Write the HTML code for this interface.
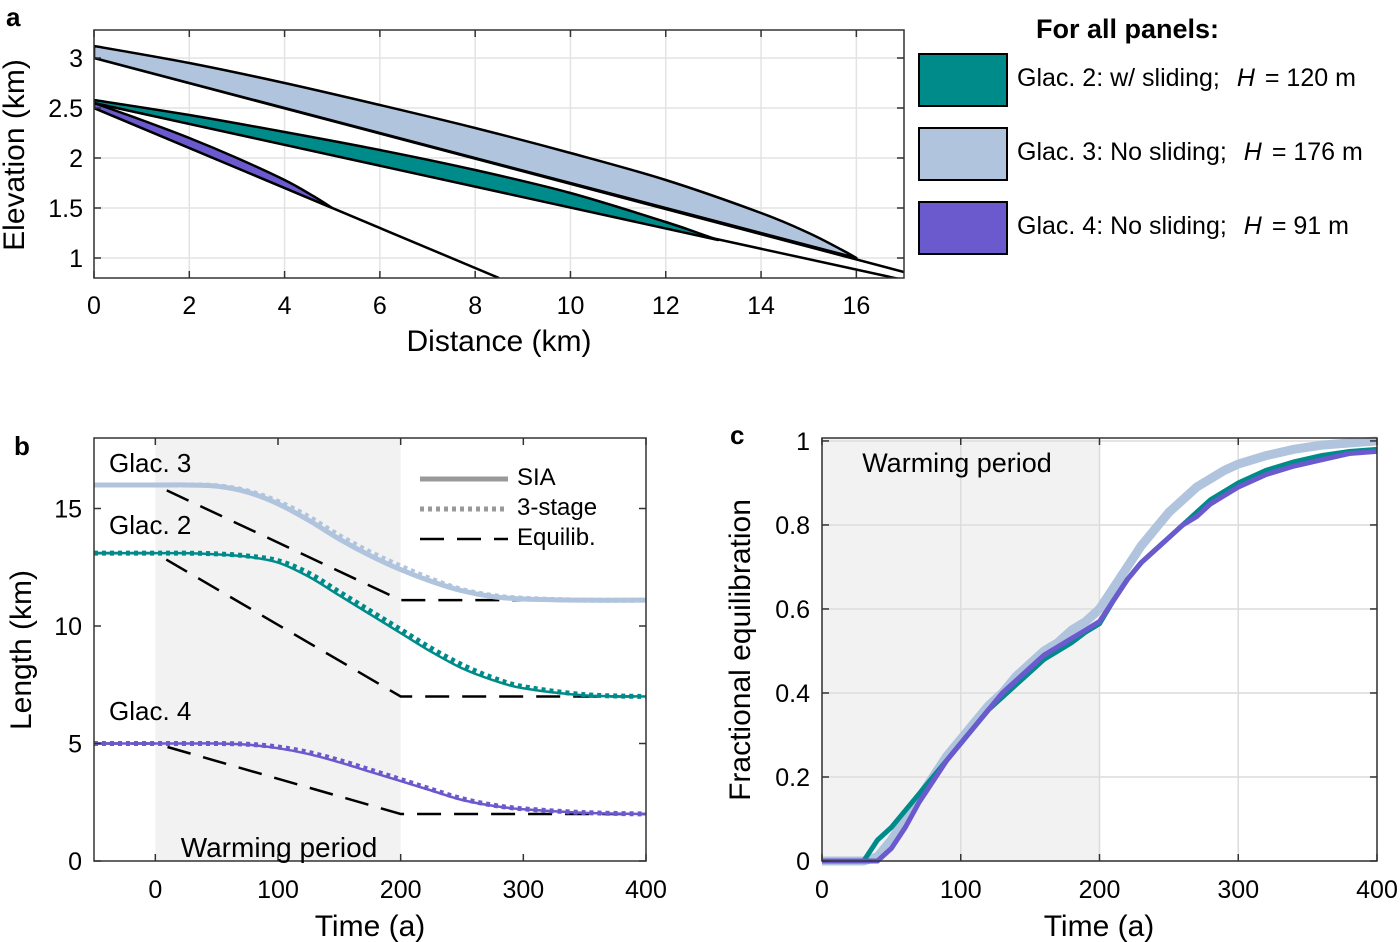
<!DOCTYPE html>
<html><head><meta charset="utf-8"><style>
html,body{margin:0;padding:0;background:#fff;}
svg{display:block;font-family:"Liberation Sans",sans-serif;}
</style></head><body>
<svg id="fig" width="1400" height="942" viewBox="0 0 1400 942" xmlns="http://www.w3.org/2000/svg"></svg>
<script>
// ---- Panel a data ----
const g3X = [0,2,4,6,8,10,12,14,15,15.7,16];
const g3Surf = [3.12,2.95,2.75,2.53,2.3,2.05,1.78,1.45,1.25,1.08,1.0];
const g3Bed = [[0,3.0],[17,0.86]];
const g2X = [0,2,4,6,8,10,12,12.8,13.1];
const g2Surf = [2.58,2.43,2.26,2.08,1.88,1.65,1.36,1.23,1.18];
const g2Bed = [[0,2.55],[17,0.78]];
const g4X = [0,1,2,3,4,4.6,5];
const g4Surf = [2.55,2.38,2.2,2.0,1.78,1.62,1.5];
const g4Bed = [[0,2.5],[8.5,0.8]];
const aXTicks = [0,2,4,6,8,10,12,14,16];
const aYTicks = [1,1.5,2,2.5,3];
const aYLabels = ['1','1.5','2','2.5','3'];
// ---- Panel b data ----
const bT = [-50,0,25,50,75,100,125,150,175,200,225,250,275,300,350,400];
const b3SIA = [16,16,16,15.95,15.7,15.2,14.5,13.7,13.0,12.4,11.9,11.5,11.25,11.15,11.1,11.1];
const b3Stage = [16,16,16,15.97,15.75,15.3,14.65,13.85,13.15,12.55,12.0,11.55,11.3,11.18,11.1,11.1];
const b2SIA = [13.1,13.1,13.1,13.05,12.95,12.7,12.1,11.3,10.5,9.7,8.9,8.2,7.7,7.35,7.05,7.0];
const b2Stage = [13.1,13.1,13.1,13.07,12.98,12.78,12.25,11.45,10.65,9.85,9.05,8.35,7.8,7.42,7.08,7.0];
const b4SIA = [5,5,5,5,4.95,4.8,4.55,4.2,3.8,3.4,3.0,2.6,2.35,2.2,2.05,2.0];
const b4Stage = [5,5,5,5,4.97,4.85,4.62,4.28,3.88,3.47,3.05,2.65,2.38,2.22,2.06,2.0];
const bEqT = [-50,0,200,400];
const b3Eq = [16,16,11.1,11.1];
const b2Eq = [13.1,13.1,7.0,7.0];
const b4Eq = [5,5,2.0,2.0];
const bXTicks = [0,100,200,300,400];
const bYTicks = [0,5,10,15];
// ---- Panel c data ----
const cT = [0,30,40,50,60,70,80,90,100,110,120,130,140,150,160,170,180,190,200,210,220,230,240,250,260,270,280,290,300,320,340,360,380,400];
const c2 = [0,0,0.05,0.08,0.12,0.16,0.2,0.24,0.28,0.32,0.36,0.39,0.42,0.45,0.48,0.5,0.52,0.545,0.565,0.62,0.67,0.71,0.74,0.77,0.8,0.83,0.86,0.88,0.9,0.93,0.95,0.965,0.975,0.98];
const c3 = [0,0,0.01,0.05,0.1,0.15,0.2,0.25,0.29,0.33,0.37,0.4,0.44,0.47,0.5,0.52,0.55,0.57,0.6,0.65,0.7,0.75,0.79,0.83,0.86,0.89,0.91,0.93,0.945,0.965,0.98,0.99,0.995,1.0];
const c4 = [0,0,0,0.03,0.08,0.14,0.19,0.24,0.28,0.32,0.36,0.4,0.43,0.46,0.49,0.51,0.53,0.55,0.57,0.62,0.67,0.71,0.74,0.77,0.8,0.82,0.85,0.87,0.89,0.92,0.94,0.955,0.97,0.975];
const cXTicks = [0,100,200,300,400];
const cYTicks = [0,0.2,0.4,0.6,0.8,1];
const cYLabels = ['0','0.2','0.4','0.6','0.8','1'];

const NS='http://www.w3.org/2000/svg';
const svg=document.getElementById('fig');
function mk(tag,attrs,parent,text){const e=document.createElementNS(NS,tag);for(const k in attrs)e.setAttribute(k,attrs[k]);if(text!==undefined)e.textContent=text;(parent||svg).appendChild(e);return e;}
function scale(d0,d1,r0,r1){return v=>r0+(v-d0)/(d1-d0)*(r1-r0);}
function smooth(pts){ // Catmull-Rom -> cubic bezier
  let d='M'+pts[0][0]+','+pts[0][1];
  for(let i=0;i<pts.length-1;i++){
    const p0=pts[i-1]||pts[i],p1=pts[i],p2=pts[i+1],p3=pts[i+2]||p2;
    const c1=[p1[0]+(p2[0]-p0[0])/6,p1[1]+(p2[1]-p0[1])/6];
    const c2=[p2[0]-(p3[0]-p1[0])/6,p2[1]-(p3[1]-p1[1])/6];
    d+=' C'+c1[0]+','+c1[1]+' '+c2[0]+','+c2[1]+' '+p2[0]+','+p2[1];
  }
  return d;
}
const TEAL='#008b8b', LB='#b0c4de', PUR='#6a5acd';
const TF=25, AF=30;

// ---------- Panel a ----------
const ax=scale(0,17,94,904), ay=scale(0.8,3.28,278,30);
const ga=mk('g',{});
aXTicks.forEach(t=>{const l=mk('line',{x1:ax(t),x2:ax(t),y1:30,y2:278,stroke:'#e3e3e3','stroke-width':1.5},ga);});
aYTicks.forEach(t=>{const l=mk('line',{x1:94,x2:904,y1:ay(t),y2:ay(t),stroke:'#e3e3e3','stroke-width':1.5},ga);});
const clipA=mk('clipPath',{id:'clipA'});mk('rect',{x:94,y:30,width:810,height:248},clipA);
const gaClip=mk('g',{'clip-path':'url(#clipA)'},ga);
function glacierC(xs,surf,bed,fill,name){
  const bedAt=x=>bed[0][1]+(x-bed[0][0])*(bed[1][1]-bed[0][1])/(bed[1][0]-bed[0][0]);
  const b=mk('line',{x1:ax(bed[0][0]),y1:ay(bed[0][1]),x2:ax(bed[1][0]),y2:ay(bed[1][1]),stroke:'#000','stroke-width':2.5},gaClip);
  
  let d=smooth(xs.map((x,i)=>[ax(x),ay(surf[i])]));
  d+=' L'+ax(xs[0])+','+ay(bedAt(xs[0]))+'Z';
  const p=mk('path',{d:d,fill:fill,stroke:'#000','stroke-width':2.5,'stroke-linejoin':'round'},gaClip);
  
}
glacierC(g3X,g3Surf,g3Bed,LB,'glacier-3-profile');
glacierC(g2X,g2Surf,g2Bed,TEAL,'glacier-2-profile');
glacierC(g4X,g4Surf,g4Bed,PUR,'glacier-4-profile');
mk('rect',{x:94,y:30,width:810,height:248,fill:'none',stroke:'#333','stroke-width':1.5},ga);
aXTicks.forEach(t=>{mk('line',{x1:ax(t),x2:ax(t),y1:278,y2:271,stroke:'#333','stroke-width':1.5},ga);mk('line',{x1:ax(t),x2:ax(t),y1:30,y2:37,stroke:'#333','stroke-width':1.5},ga);
 const tx=mk('text',{x:ax(t),y:314,'font-size':TF,'text-anchor':'middle'},ga,String(t));});
aYTicks.forEach((t,i)=>{mk('line',{x1:94,x2:101,y1:ay(t),y2:ay(t),stroke:'#333','stroke-width':1.5},ga);mk('line',{x1:904,x2:897,y1:ay(t),y2:ay(t),stroke:'#333','stroke-width':1.5},ga);
 const tx=mk('text',{x:83,y:ay(t)+9,'font-size':TF,'text-anchor':'end'},ga,aYLabels[i]);});
let t;
t=mk('text',{x:499,y:351,'font-size':AF,'text-anchor':'middle'},ga,'Distance (km)');
t=mk('text',{x:24,y:155,'font-size':AF,'text-anchor':'middle',transform:'rotate(-90 24 155)'},ga,'Elevation (km)');
t=mk('text',{x:6,y:26,'font-size':26,'font-weight':'bold'},ga,'a');

// legend
const gl=mk('g',{});
t=mk('text',{x:1036,y:38,'font-size':27,'font-weight':'bold'},gl,'For all panels:');
const legs=[[TEAL,'Glac. 2:  w/ sliding;  ','= 120 m',54],[LB,'Glac. 3:  No sliding;  ','= 176 m',128],[PUR,'Glac. 4:  No sliding;  ','= 91 m',202]];
legs.forEach((L,i)=>{const g=mk('g',{},gl);
 mk('rect',{x:919,y:L[3],width:88,height:52,fill:L[0],stroke:'#000','stroke-width':2},g);
 const tx=mk('text',{x:1017,y:L[3]+32,'font-size':25,'xml:space':'preserve'},g);
 mk('tspan',{},tx,L[1]);mk('tspan',{'font-style':'italic',dx:10},tx,'H');mk('tspan',{dx:10},tx,L[2]);});

// ---------- Panel b ----------
const bx=scale(-50,400,94,646), by=scale(0,18,861,438);
const gb=mk('g',{});
t=mk('rect',{x:bx(0),y:438,width:bx(200)-bx(0),height:423,fill:'#f2f2f2'},gb);
const clipB=mk('clipPath',{id:'clipB'});mk('rect',{x:94,y:438,width:552,height:423},clipB);
const gbc=mk('g',{'clip-path':'url(#clipB)'},gb);
function line(xs,ys,sx,sy,attrs,parent,name,sm){const pts=xs.map((x,i)=>[sx(x),sy(ys[i])]);const d=sm?smooth(pts):'M'+pts.map(p=>p[0]+','+p[1]).join(' L');const p=mk('path',Object.assign({d:d,fill:'none'},attrs),parent);return p;}
const eqA={stroke:'#000','stroke-width':2.5,'stroke-dasharray':'24,13'};
line(bEqT,b3Eq,bx,by,eqA,gbc,'glac3-equilib-line');
line(bEqT,b2Eq,bx,by,eqA,gbc,'glac2-equilib-line');
line(bEqT,b4Eq,bx,by,eqA,gbc,'glac4-equilib-line');
line(bT,b3SIA,bx,by,{stroke:LB,'stroke-width':5},gbc,'glac3-sia-line',1);
line(bT,b3Stage,bx,by,{stroke:LB,'stroke-width':5,'stroke-dasharray':'4,4'},gbc,'glac3-3stage-line',1);
line(bT,b2SIA,bx,by,{stroke:TEAL,'stroke-width':2.5},gbc,'glac2-sia-line',1);
line(bT,b2Stage,bx,by,{stroke:TEAL,'stroke-width':5,'stroke-dasharray':'4,4'},gbc,'glac2-3stage-line',1);
line(bT,b4SIA,bx,by,{stroke:PUR,'stroke-width':2.5},gbc,'glac4-sia-line',1);
line(bT,b4Stage,bx,by,{stroke:PUR,'stroke-width':5,'stroke-dasharray':'4,4'},gbc,'glac4-3stage-line',1);
mk('rect',{x:94,y:438,width:552,height:423,fill:'none',stroke:'#333','stroke-width':1.5},gb);
bXTicks.forEach(v=>{mk('line',{x1:bx(v),x2:bx(v),y1:861,y2:854,stroke:'#333','stroke-width':1.5},gb);mk('line',{x1:bx(v),x2:bx(v),y1:438,y2:445,stroke:'#333','stroke-width':1.5},gb);
 const tx=mk('text',{x:bx(v),y:898,'font-size':TF,'text-anchor':'middle'},gb,String(v));});
bYTicks.forEach(v=>{mk('line',{x1:94,x2:101,y1:by(v),y2:by(v),stroke:'#333','stroke-width':1.5},gb);mk('line',{x1:646,x2:639,y1:by(v),y2:by(v),stroke:'#333','stroke-width':1.5},gb);
 const tx=mk('text',{x:82,y:by(v)+9,'font-size':TF,'text-anchor':'end'},gb,String(v));});
t=mk('text',{x:370,y:936,'font-size':AF,'text-anchor':'middle'},gb,'Time (a)');
t=mk('text',{x:31,y:650,'font-size':AF,'text-anchor':'middle',transform:'rotate(-90 31 650)'},gb,'Length (km)');
t=mk('text',{x:14,y:455,'font-size':26,'font-weight':'bold'},gb,'b');
[['Glac. 3',472],['Glac. 2',534],['Glac. 4',720]].forEach(L=>{const tx=mk('text',{x:109,y:L[1],'font-size':26},gb,L[0]);});
t=mk('text',{x:279,y:857,'font-size':28,'text-anchor':'middle'},gb,'Warming period');
const lg=mk('g',{},gb);
mk('line',{x1:420,x2:508,y1:479,y2:479,stroke:'#999','stroke-width':5},lg);
mk('line',{x1:420,x2:508,y1:509,y2:509,stroke:'#999','stroke-width':5,'stroke-dasharray':'4,4'},lg);
mk('line',{x1:420,x2:508,y1:539,y2:539,stroke:'#000','stroke-width':2.5,'stroke-dasharray':'24,13'},lg);
[['SIA',485],['3-stage',515],['Equilib.',545]].forEach(L=>{const tx=mk('text',{x:517,y:L[1],'font-size':24},lg,L[0]);});

// ---------- Panel c ----------
const cx=scale(0,400,822,1377), cy=scale(0,1.007,861,438);
const gc=mk('g',{});
t=mk('rect',{x:cx(0),y:438,width:cx(200)-cx(0),height:423,fill:'#f2f2f2'},gc);
cXTicks.forEach(v=>{mk('line',{x1:cx(v),x2:cx(v),y1:438,y2:861,stroke:'#dcdcdc','stroke-width':1.5},gc);});
cYTicks.forEach(v=>{mk('line',{x1:822,x2:1377,y1:cy(v),y2:cy(v),stroke:'#dcdcdc','stroke-width':1.5},gc);});
line(cT,c3,cx,cy,{stroke:LB,'stroke-width':9},gc,'glac3-equilibration-line');
line(cT,c2,cx,cy,{stroke:TEAL,'stroke-width':5},gc,'glac2-equilibration-line');
line(cT,c4,cx,cy,{stroke:PUR,'stroke-width':5},gc,'glac4-equilibration-line');
mk('rect',{x:822,y:438,width:555,height:423,fill:'none',stroke:'#333','stroke-width':1.5},gc);
cXTicks.forEach(v=>{mk('line',{x1:cx(v),x2:cx(v),y1:861,y2:854,stroke:'#333','stroke-width':1.5},gc);mk('line',{x1:cx(v),x2:cx(v),y1:438,y2:445,stroke:'#333','stroke-width':1.5},gc);
 const tx=mk('text',{x:cx(v),y:898,'font-size':TF,'text-anchor':'middle'},gc,String(v));});
cYTicks.forEach((v,i)=>{mk('line',{x1:822,x2:829,y1:cy(v),y2:cy(v),stroke:'#333','stroke-width':1.5},gc);mk('line',{x1:1377,x2:1370,y1:cy(v),y2:cy(v),stroke:'#333','stroke-width':1.5},gc);
 const tx=mk('text',{x:810,y:cy(v)+9,'font-size':TF,'text-anchor':'end'},gc,cYLabels[i]);});
t=mk('text',{x:1099,y:936,'font-size':AF,'text-anchor':'middle'},gc,'Time (a)');
t=mk('text',{x:750,y:650,'font-size':AF,'text-anchor':'middle',transform:'rotate(-90 750 650)'},gc,'Fractional equilibration');
t=mk('text',{x:730,y:444,'font-size':26,'font-weight':'bold'},gc,'c');
t=mk('text',{x:957,y:472,'font-size':27,'text-anchor':'middle'},gc,'Warming period');
</script>
</body></html>
